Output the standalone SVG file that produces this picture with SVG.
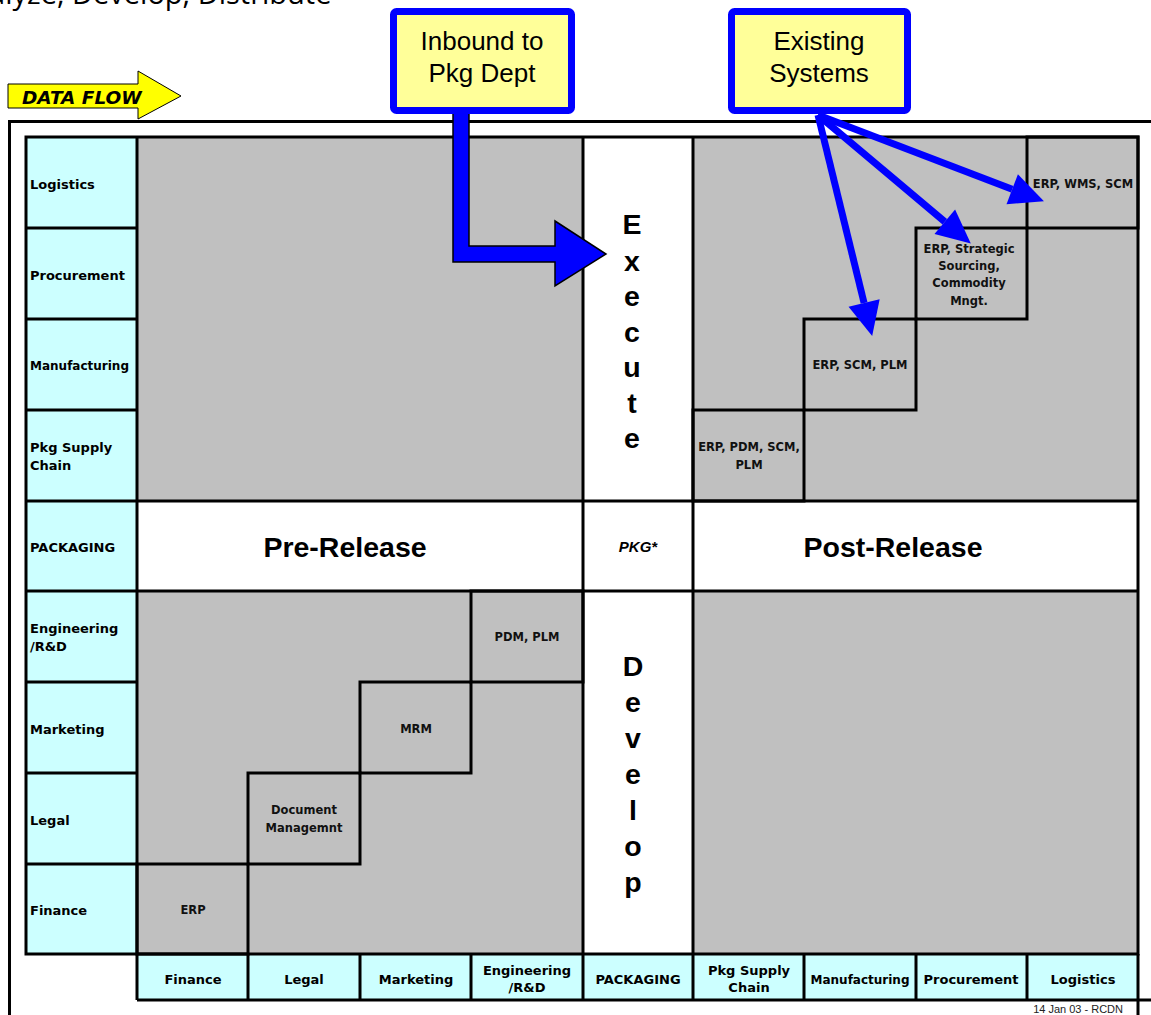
<svg xmlns="http://www.w3.org/2000/svg" width="1151" height="1015" viewBox="0 0 1151 1015">
<defs>
<style>
.lbl{font-family:"DejaVu Sans",Verdana,sans-serif;font-weight:bold;font-size:13px;fill:#000}
.cell{font-family:"DejaVu Sans",Verdana,sans-serif;font-weight:bold;font-size:11.5px;fill:#111;text-anchor:middle}
.big{font-family:"Liberation Sans",Arial,sans-serif;font-weight:bold;font-size:28.5px;fill:#000;text-anchor:middle}
.box{fill:#FFFF99;stroke:#0000FF;stroke-width:7}
.boxt{font-family:"Liberation Sans",Arial,sans-serif;font-size:26px;fill:#000;text-anchor:middle}
.grid{fill:none;stroke:#000;stroke-width:3}
.gray{fill:#C0C0C0}
.cyan{fill:#CCFFFF}
.blue{stroke:#0000FF;stroke-width:7;fill:none}
</style>
<marker id="ah" markerUnits="userSpaceOnUse" markerWidth="40" markerHeight="40" refX="0" refY="0" orient="auto" viewBox="-2 -20 40 40" overflow="visible">
<path d="M0,-16 L34,0 L0,16 z" fill="#0000FF"/>
</marker>
</defs>
<rect width="1151" height="1015" fill="#fff"/>
<text x="-47" y="4" font-family="'Open Sans','Noto Sans',sans-serif" font-size="29" fill="#000">Analyze, Develop, Distribute</text>

<!-- outer frame -->
<path class="grid" d="M9.5,1015 V121.5 H1151"/>

<!-- fills -->
<g id="fills">
<rect class="gray" x="137" y="137" width="446" height="364"/>
<rect class="gray" x="693" y="137" width="445" height="364"/>
<rect class="gray" x="137" y="591" width="446" height="363"/>
<rect class="gray" x="693" y="591" width="445" height="363"/>
<rect class="cyan" x="26" y="137" width="111" height="817"/>
<rect class="cyan" x="137" y="954" width="1001" height="46"/>
</g>

<!-- grid lines -->
<g id="grid" class="grid">
<rect x="26" y="137" width="1112" height="817"/>
<path d="M137,137 V1000 M583,137 V1000 M693,137 V1000 M137,1000 H1151 M1138,954 V1015"/>
<path d="M26,228 H137 M26,319 H137 M26,410 H137 M26,682 H137 M26,773 H137 M26,864 H137"/>
<path d="M26,501 H1138 M26,591 H1138"/>
<path d="M248,954 V1000 M360,954 V1000 M471,954 V1000 M804,954 V1000 M916,954 V1000 M1027,954 V1000"/>
</g>

<!-- stair boxes -->
<g id="n-erp-pdm-scm-plm"><rect class="grid" x="693" y="410" width="111" height="91"/>
<text class="cell" x="749" y="451">ERP, PDM, SCM,</text><text class="cell" x="749" y="469">PLM</text></g>
<g id="n-erp-scm-plm"><rect class="grid" x="804" y="319" width="112" height="91"/>
<text class="cell" x="860" y="369">ERP, SCM, PLM</text></g>
<g id="n-erp-strategic"><rect class="grid" x="916" y="228" width="111" height="91"/>
<text class="cell" x="969" y="253">ERP, Strategic</text><text class="cell" x="969" y="270">Sourcing,</text><text class="cell" x="969" y="287">Commodity</text><text class="cell" x="969" y="305">Mngt.</text></g>
<g id="n-erp-wms-scm"><rect class="grid" x="1027" y="137" width="111" height="91"/>
<text class="cell" x="1083" y="188">ERP, WMS, SCM</text></g>

<g id="n-erp"><rect class="grid" x="137" y="864" width="111" height="90"/>
<text class="cell" x="193" y="914">ERP</text></g>
<g id="n-docmgmt"><rect class="grid" x="248" y="773" width="112" height="91"/>
<text class="cell" x="304" y="814">Document</text><text class="cell" x="304" y="832">Managemnt</text></g>
<g id="n-mrm"><rect class="grid" x="360" y="682" width="111" height="91"/>
<text class="cell" x="416" y="733">MRM</text></g>
<g id="n-pdm-plm"><rect class="grid" x="471" y="591" width="112" height="91"/>
<text class="cell" x="527" y="641">PDM, PLM</text></g>

<!-- left labels -->
<g id="left-labels" class="lbl">
<text x="30" y="189">Logistics</text>
<text x="30" y="280">Procurement</text>
<text x="30" y="370" font-size="12">Manufacturing</text>
<text x="30" y="452">Pkg Supply</text><text x="30" y="470">Chain</text>
<text x="30" y="552">PACKAGING</text>
<text x="30" y="633">Engineering</text><text x="30" y="651">/R&amp;D</text>
<text x="30" y="734">Marketing</text>
<text x="30" y="825">Legal</text>
<text x="30" y="915">Finance</text>
</g>

<!-- bottom labels -->
<g id="bottom-labels" class="lbl" text-anchor="middle">
<text x="193" y="984">Finance</text>
<text x="304" y="984">Legal</text>
<text x="416" y="984">Marketing</text>
<text x="527" y="975">Engineering</text><text x="527" y="992">/R&amp;D</text>
<text x="638" y="984">PACKAGING</text>
<text x="749" y="975">Pkg Supply</text><text x="749" y="992">Chain</text>
<text x="860" y="984" font-size="12">Manufacturing</text>
<text x="971" y="984">Procurement</text>
<text x="1083" y="984">Logistics</text>
</g>

<!-- center texts -->
<g id="execute" class="big">
<text x="632" y="234">E</text><text x="632" y="271">x</text><text x="632" y="306">e</text><text x="632" y="342">c</text><text x="632" y="377">u</text><text x="632" y="413">t</text><text x="632" y="448">e</text>
</g>
<g id="develop" class="big">
<text x="633" y="676">D</text><text x="633" y="712">e</text><text x="633" y="748">v</text><text x="633" y="784">e</text><text x="633" y="820">l</text><text x="633" y="856">o</text><text x="633" y="892">p</text>
</g>
<text class="big" x="345" y="557">Pre-Release</text>
<text class="big" x="893" y="557">Post-Release</text>
<text x="638" y="552" font-family="'Liberation Sans',Arial,sans-serif" font-weight="bold" font-style="italic" font-size="15" text-anchor="middle">PKG*</text>

<text x="1123" y="1013" font-family="'Liberation Sans',Arial,sans-serif" font-size="11" fill="#222" text-anchor="end">14 Jan 03 - RCDN</text>

<!-- data flow arrow -->
<g id="data-flow">
<polygon points="8,84 138,84 138,71 181,96 138,119 138,108 8,108" fill="#FFFF00" stroke="#000" stroke-width="1"/>
<text x="22" y="104" font-family="'DejaVu Sans',Verdana,sans-serif" font-weight="bold" font-style="italic" font-size="18.5" fill="#000">DATA FLOW</text>
</g>

<!-- connectors -->
<g id="connectors">
<polygon points="453,113 469,113 469,246 555,246 555,221 606,254 555,286 555,262 453,262" fill="#0000FF" stroke="#000" stroke-width="1.5"/>
<line class="blue" x1="818" y1="115" x2="864.1" y2="303" marker-end="url(#ah)"/>
<line class="blue" x1="818" y1="115" x2="944.8" y2="221.7" marker-end="url(#ah)"/>
<line class="blue" x1="818" y1="115" x2="1012.2" y2="189.2" marker-end="url(#ah)"/>
</g>

<!-- top boxes -->
<g id="n-inbound">
<rect class="box" x="393.5" y="11.5" width="178" height="99" rx="3"/>
<text class="boxt" x="482" y="50">Inbound to</text>
<text class="boxt" x="482" y="82">Pkg Dept</text>
</g>
<g id="n-existing">
<rect class="box" x="731.5" y="11.5" width="176" height="99" rx="3"/>
<text class="boxt" x="819" y="50">Existing</text>
<text class="boxt" x="819" y="82">Systems</text>
</g>
</svg>
